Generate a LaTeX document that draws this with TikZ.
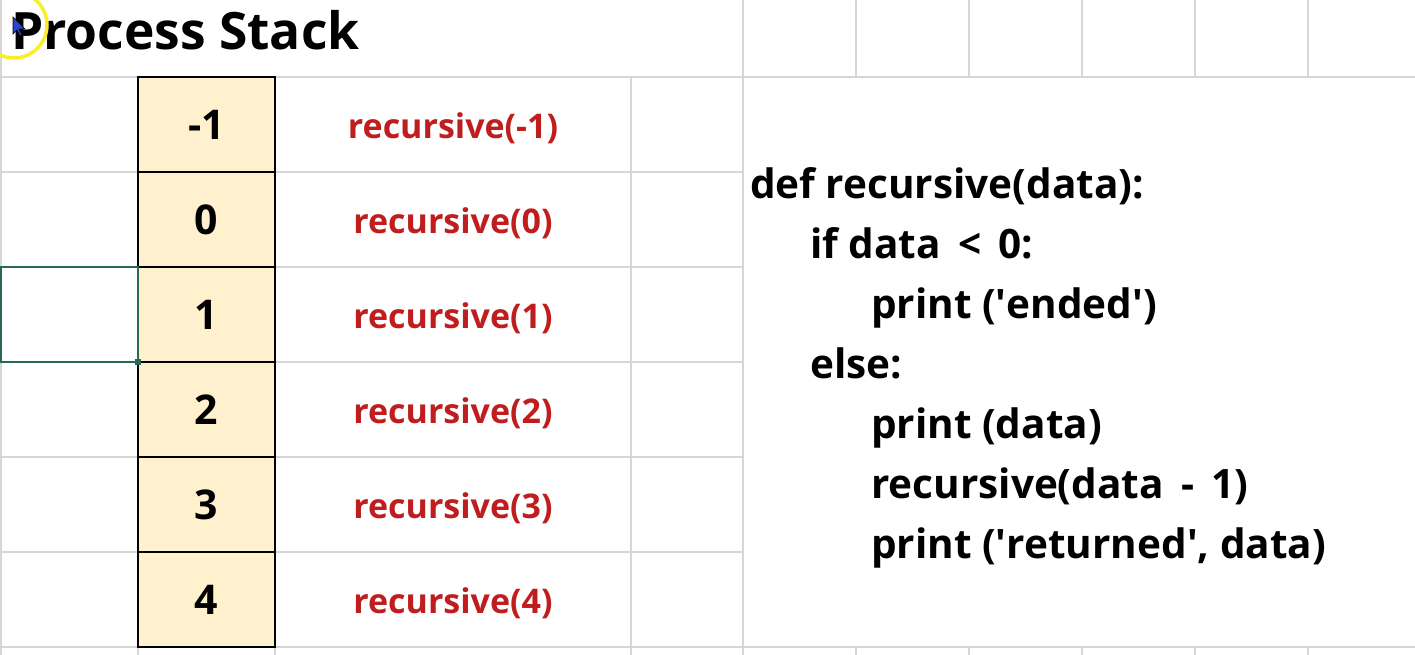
\documentclass[tikz,border=0pt]{standalone}
\usepackage{fontspec}
\setmainfont{Open Sans}
\definecolor{gridc}{RGB}{214,214,214}
\definecolor{stackfill}{RGB}{255,241,206}
\definecolor{labelred}{RGB}{192,30,30}
\definecolor{selgreen}{RGB}{40,105,85}
\definecolor{hiyellow}{RGB}{250,238,40}
\definecolor{cursorblue}{RGB}{40,70,210}
\newcommand{\sq}{\textquotesingle}
\tikzset{
  gridline/.style={draw=gridc, line width=1.2pt},
  stackcell/.style={draw=black, line width=2pt, fill=stackfill, minimum width=137pt, minimum height=95pt, inner sep=0pt,
    font=\bfseries\fontsize{41}{41}\selectfont, text=black},
  calllabel/.style={font=\bfseries\fontsize{34}{34}\selectfont, text=labelred, inner sep=0pt},
  codeline/.style={font=\bfseries\fontsize{40.5}{40.5}\selectfont, text=black, inner sep=0pt, anchor=base west},
  titletext/.style={font=\bfseries\fontsize{51.5}{51.5}\selectfont, text=black, inner sep=0pt, anchor=base west}
}
\begin{document}
\begin{tikzpicture}[x=1pt,y=-1pt]
\useasboundingbox (0,0) rectangle (1415,655);
\fill[white] (0,0) rectangle (1415,655);
% grid lines
\draw[gridline] (0,77) -- (1415,77);
\foreach \yy in {172,267,362,457,552} { \draw[gridline] (0,\yy) -- (743,\yy); }
\draw[gridline] (0,647) -- (1415,647);
\draw[gridline] (1,0) -- (1,655);
\foreach \xx in {743,856,969,1082,1195,1308} { \draw[gridline] (\xx,0) -- (\xx,77); }
\foreach \xx in {631,743} { \draw[gridline] (\xx,77) -- (\xx,647); }
\foreach \xx in {138,275,631,743,856,969,1082,1195,1308} { \draw[gridline] (\xx,647) -- (\xx,655); }
% title
\node[titletext] (title) at (11,50) {Process Stack};
% stack
\node[stackcell] (s5) at (206.5,124.5) {-1};
\node[stackcell] (s4) at (206.5,219.5) {0};
\node[stackcell] (s3) at (206.5,314.5) {1};
\node[stackcell] (s2) at (206.5,409.5) {2};
\node[stackcell] (s1) at (206.5,504.5) {3};
\node[stackcell] (s0) at (206.5,599.5) {4};
% labels
\node[calllabel] (l5) at (453,128) {recursive(-1)};
\node[calllabel] (l4) at (453,223) {recursive(0)};
\node[calllabel] (l3) at (453,318) {recursive(1)};
\node[calllabel] (l2) at (453,413) {recursive(2)};
\node[calllabel] (l1) at (453,508) {recursive(3)};
\node[calllabel] (l0) at (453,603) {recursive(4)};
% selection
\draw[selgreen, line width=1.6pt] (0.8,267) rectangle (138,362);
\fill[selgreen] (135,359) rectangle (141,365);
% code
\node[codeline] (c1) at (750,198) {def recursive(data):};
\node[codeline] (c2) at (810,258) {if data \,<\, 0:};
\node[codeline] (c3) at (871,318) {print (\sq ended\sq)};
\node[codeline] (c4) at (810,378) {else:};
\node[codeline] (c5) at (871,438) {print (data)};
\node[codeline] (c6) at (871,498) {recursive(data \,-\, 1)};
\node[codeline] (c7) at (871,558) {print (\sq returned\sq, data)};
% cursor highlight
\draw[hiyellow, line width=3.5pt] (14,25) circle (33);
\filldraw[fill=cursorblue, draw=black, line width=0.6pt] (13,17) -- (13,34) -- (17,30) -- (20,36) -- (22,35) -- (19,29) -- (25,29) -- cycle;
\end{tikzpicture}
\end{document}
